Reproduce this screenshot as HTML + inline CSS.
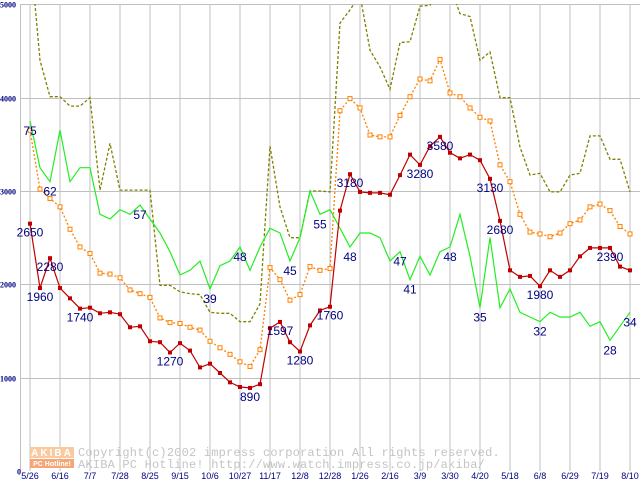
<!DOCTYPE html>
<html><head><meta charset="utf-8"><style>
html,body{margin:0;padding:0;background:#fff;width:640px;height:480px;overflow:hidden}
svg{display:block}
</style></head><body>
<svg id="chart" width="640" height="480" xmlns="http://www.w3.org/2000/svg" font-family="'Liberation Sans', sans-serif">
<defs><clipPath id="plotclip"><rect x="20" y="4" width="620" height="468"/></clipPath></defs>
<g id="grid"></g>
<g id="watermark">
  <rect x="30" y="447" width="44" height="11" fill="#f9c9a0"/>
  <rect x="30" y="459" width="44" height="9" fill="#f4a774"/>
  <text x="52" y="456" font-size="10" font-weight="bold" fill="#fff" text-anchor="middle" letter-spacing="2">AKIBA</text>
  <text x="52" y="466" font-size="7" font-weight="bold" fill="#fff" text-anchor="middle">PC Hotline!</text>
  <text x="78" y="456" font-family="'Liberation Mono', monospace" font-size="12" fill="#c4c4c4" letter-spacing="0.2">Copyright(c)2002 impress corporation All rights reserved.</text>
  <text x="78" y="468" font-family="'Liberation Mono', monospace" font-size="12" fill="#c4c4c4" letter-spacing="0.2">AKIBA PC Hotline! http://www.watch.impress.co.jp/akiba/</text>
</g>
<g id="axes"></g>
<g id="series" clip-path="url(#plotclip)"></g>
<g id="labels"></g>
</svg>
<script>
const xLabels = ["5/26","6/16","7/7","7/28","8/25","9/15","10/6","10/27","11/17","12/8","12/28","1/26","2/16","3/9","3/30","4/20","5/18","6/8","6/29","7/19","8/10"];
const yTicks = [0,1000,2000,3000,4000,5000];
const priceValues = [2650,1960,2280,1960,1850,1740,1750,1690,1700,1680,1540,1550,1390,1380,1270,1370,
 1290,1110,1150,1050,950,900,890,930,1530,1597,1380,1280,1560,1720,1760,
 2790,3180,2990,2980,2980,2960,3170,3390,3280,3480,3580,3410,3350,3390,3330,
 3130,2680,2150,2080,2090,1980,2150,2080,2150,2300,2390,2390,2390,2190,2150];
const avgValues = [3650,3020,2920,2830,2590,2400,2330,2120,2110,2070,1940,1900,1860,1640,1590,1580,
 1540,1510,1390,1320,1250,1170,1120,1300,2180,2050,1830,1890,2190,2150,2170,
 3860,3990,3890,3600,3580,3580,3810,4010,4200,4180,4410,4050,4010,3890,3790,
 3750,3280,3100,2750,2560,2540,2510,2550,2650,2690,2830,2860,2790,2620,2540];
const highValues = [5600,4400,4010,4010,3910,3910,4000,3010,3510,3010,3010,3010,3010,1990,1990,1920,
 1900,1890,1700,1690,1690,1600,1600,1790,3480,2830,2500,2500,3000,3000,2990,
 4800,4940,5100,4510,4330,4090,4590,4600,4980,4990,5200,5200,4900,4870,4400,
 4490,4000,4000,3470,3170,3190,2990,2990,3170,3190,3590,3590,3340,3340,2990];
const countValues = [75,65,62,73,62,65,65,55,54,56,55,57,54,51,47,42,
 43,45,39,44,45,48,43,48,52,51,45,50,60,55,56,
 52,48,51,51,50,45,47,41,46,42,47,48,55,46,35,
 50,35,39,34,33,32,34,33,33,34,31,32,28,31,34];
const priceLabelIdx = [0,1,2,5,14,22,25,27,30,32,39,41,46,47,51,58];
const countLabelIdx = [0,2,11,18,21,26,29,32,37,38,42,45,51,58,60];

const NS="http://www.w3.org/2000/svg";
const X0=30, DX=10, Y0=471, KY=0.093333;
const xs = i => X0 + i*DX;
const ys = v => Y0 - v*KY;
const COUNT_SCALE = 50;
function mk(tag, attrs, parent){const e=document.createElementNS(NS,tag);for(const k in attrs)e.setAttribute(k,attrs[k]);parent.appendChild(e);return e;}
const grid=document.getElementById('grid'), axes=document.getElementById('axes'), ser=document.getElementById('series'), lab=document.getElementById('labels');

for(let i=0;i<xLabels.length;i++){
  const gx = xs(i*3);
  const l=mk('line',{x1:gx,y1:4,x2:gx,y2:471,stroke:'#c0c0c0','stroke-width':1},grid);
  
  
  const t=mk('text',{x:gx,y:479,'font-size':9,fill:'#000080','text-anchor':'middle'},axes);
  t.textContent=xLabels[i];
  
  
}
{const l=mk('line',{x1:20.5,y1:4,x2:20.5,y2:471,stroke:'#c0c0c0','stroke-width':1},grid);

}
yTicks.forEach(v=>{
  const gy=Math.round(ys(v))+0.5;
  if(v>0){const l=mk('line',{x1:20,y1:gy,x2:640,y2:gy,stroke:'#c0c0c0','stroke-width':1},grid);
  
  }
  const t=mk('text',{x:v===0?17:0,y:gy+3,'font-size':8,'font-weight':'bold',fill:'#000080','font-family':"'Liberation Serif', serif"},axes);
  t.textContent=String(v);
  
  
});

function pts(arr,scale){return arr.map((v,i)=>xs(i)+','+ys(v*scale).toFixed(1)).join(' ');}
{const p=mk('polyline',{points:pts(highValues,1),fill:'none',stroke:'#808000','stroke-width':1.3,'stroke-dasharray':'3,2'},ser);

}
{const p=mk('polyline',{points:pts(avgValues,1),fill:'none',stroke:'#ff8000','stroke-width':1.3,'stroke-dasharray':'2,2'},ser);

}
avgValues.forEach((v,i)=>{
  const r=mk('rect',{x:xs(i)-2,y:ys(v)-2,width:4,height:4,fill:'#fff',stroke:'#ff8000','stroke-width':1},ser);
  
  
});
{const p=mk('polyline',{points:pts(countValues,COUNT_SCALE),fill:'none',stroke:'#22ee22','stroke-width':1.2},ser);

}
{const p=mk('polyline',{points:pts(priceValues,1),fill:'none',stroke:'#c00000','stroke-width':1.2},ser);

}
priceValues.forEach((v,i)=>{
  const r=mk('rect',{x:xs(i)-2,y:ys(v)-2,width:4,height:4,fill:'#c00000'},ser);
  
  
});
priceLabelIdx.forEach(i=>{
  const v=priceValues[i];
  const t=mk('text',{x:xs(i),y:ys(v)+13,'font-size':12,fill:'#000080','text-anchor':'middle'},lab);
  t.textContent=String(v);
  
  
});
countLabelIdx.forEach(i=>{
  const v=countValues[i];
  const t=mk('text',{x:xs(i),y:ys(v*COUNT_SCALE)+14,'font-size':12,fill:'#000080','text-anchor':'middle'},lab);
  t.textContent=String(v);
  
  
});
</script>
</body></html>
